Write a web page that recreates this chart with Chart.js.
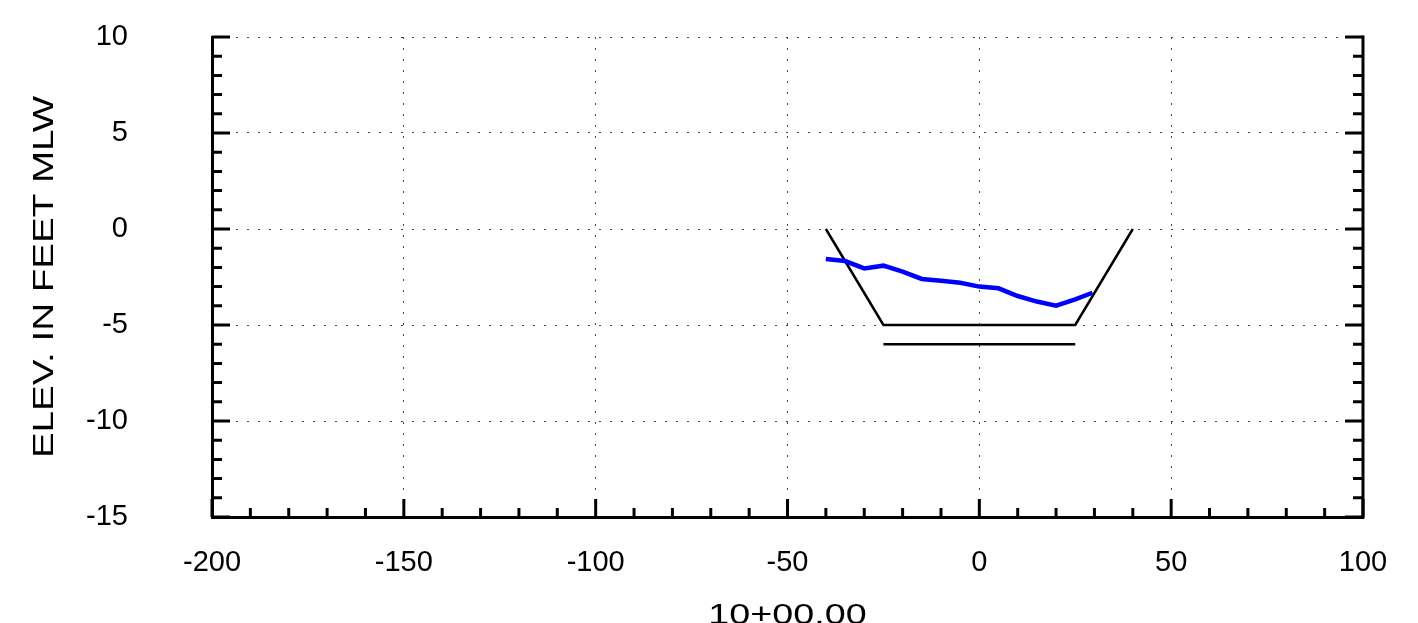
<!DOCTYPE html>
<html>
<head>
<meta charset="utf-8">
<script src="https://cdn.jsdelivr.net/npm/chart.js@4.4.0/dist/chart.umd.min.js"></script>
<style>
html,body{margin:0;padding:0;background:#fff;}
canvas{display:block;}
</style>
</head>
<body>
<canvas id="c" width="1418" height="623"></canvas>
<script>
// Data
const surveyX = [-40, -35, -30, -25, -20, -15, -10, -5, 0, 5, 10, 15, 20, 25, 29.5];
const surveyY = [-1.56, -1.67, -2.05, -1.91, -2.22, -2.6, -2.69, -2.8, -3.0, -3.09, -3.49, -3.78, -3.99, -3.66, -3.32];
const templateX = [-40, -25, 25, 40];
const templateY = [0, -5, -5, 0];
const overdepthX = [-25, 25];
const overdepthY = [-6, -6];
const xTicks = [-200, -150, -100, -50, 0, 50, 100];
const yTicks = [-15, -10, -5, 0, 5, 10];
const xTitle = '10+00.00';
const yTitle = 'ELEV. IN FEET MLW';

const pts = (xs, ys) => xs.map((x, i) => ({x: x, y: ys[i]}));
const FAMILY = '"Liberation Sans", Arial, sans-serif';
const FONT = {family: FAMILY, size: 29};

const framePlugin = {
  id: 'frame',
  afterDraw(chart) {
    const ctx = chart.ctx;
    const xs = chart.scales.x, ys = chart.scales.y;
    const a = chart.chartArea;
    ctx.save();
    ctx.strokeStyle = '#000';
    ctx.lineWidth = 3;
    ctx.lineCap = 'butt';
    // right border
    ctx.beginPath();
    ctx.moveTo(a.right, a.top - 1.5);
    ctx.lineTo(a.right, a.bottom + 1.5);
    ctx.stroke();
    // bottom ticks
    for (let v = xTicks[0]; v <= xTicks[xTicks.length - 1]; v += 10) {
      const px = xs.getPixelForValue(v);
      const len = (v % 50 === 0) ? 18 : 9;
      ctx.beginPath();
      ctx.moveTo(px, a.bottom);
      ctx.lineTo(px, a.bottom - len);
      ctx.stroke();
    }
    // left/right ticks
    for (let v = yTicks[0]; v <= yTicks[yTicks.length - 1]; v += 1) {
      const py = ys.getPixelForValue(v);
      const len = (v % 5 === 0) ? 18 : 10;
      ctx.beginPath();
      ctx.moveTo(a.left, py);
      ctx.lineTo(a.left + len, py);
      ctx.moveTo(a.right, py);
      ctx.lineTo(a.right - len, py);
      ctx.stroke();
    }
    // axis titles (horizontally stretched like the original)
    ctx.fillStyle = '#000';
    ctx.font = '29px ' + FAMILY;
    ctx.textAlign = 'center';
    ctx.textBaseline = 'alphabetic';
    ctx.save();
    ctx.translate(53, (a.top + a.bottom) / 2);
    ctx.rotate(-Math.PI / 2);
    ctx.scale(1.33, 1);
    ctx.fillText(yTitle, 0, 0);
    ctx.restore();
    ctx.save();
    ctx.translate((a.left + a.right) / 2, 624);
    ctx.scale(1.3, 1);
    ctx.fillText(xTitle, 0, 0);
    ctx.restore();
    ctx.restore();
  }
};

new Chart(document.getElementById('c'), {
  type: 'scatter',
  data: {
    datasets: [
      {data: pts(surveyX, surveyY), showLine: true, borderColor: '#0000ff', borderWidth: 4.5, pointRadius: 0, tension: 0, order: 0},
      {data: pts(templateX, templateY), showLine: true, borderColor: '#000', borderWidth: 2.5, pointRadius: 0, tension: 0, order: 1},
      {data: pts(overdepthX, overdepthY), showLine: true, borderColor: '#000', borderWidth: 2.5, pointRadius: 0, tension: 0, order: 1}
    ]
  },
  options: {
    responsive: false,
    animation: false,
    devicePixelRatio: 1,
    layout: {padding: {top: 37, right: 55, left: 0, bottom: 0}},
    plugins: {legend: {display: false}, tooltip: {enabled: false}},
    scales: {
      x: {
        type: 'linear', min: xTicks[0], max: xTicks[xTicks.length - 1],
        afterBuildTicks(s) { s.ticks = xTicks.map(v => ({value: v})); },
        ticks: {font: FONT, color: '#000', padding: 29, maxRotation: 0, autoSkip: false},
        grid: {color: '#444', lineWidth: 1, drawTicks: false},
        border: {display: true, width: 3, color: '#000', dash: [2, 9]},
        title: {display: false},
        afterFit(s) { s.height = 106; s.paddingLeft = 0; s.paddingRight = 0; }
      },
      y: {
        type: 'linear', min: yTicks[0], max: yTicks[yTicks.length - 1],
        afterBuildTicks(s) { s.ticks = yTicks.map(v => ({value: v})); },
        ticks: {font: FONT, color: '#000', padding: 84},
        grid: {color: '#444', lineWidth: 1, drawTicks: false},
        border: {display: true, width: 3, color: '#000', dash: [2, 9]},
        title: {display: false},
        afterFit(s) { s.width = 212; s.paddingTop = 0; s.paddingBottom = 0; }
      }
    }
  },
  plugins: [framePlugin]
});
</script>
</body>
</html>
